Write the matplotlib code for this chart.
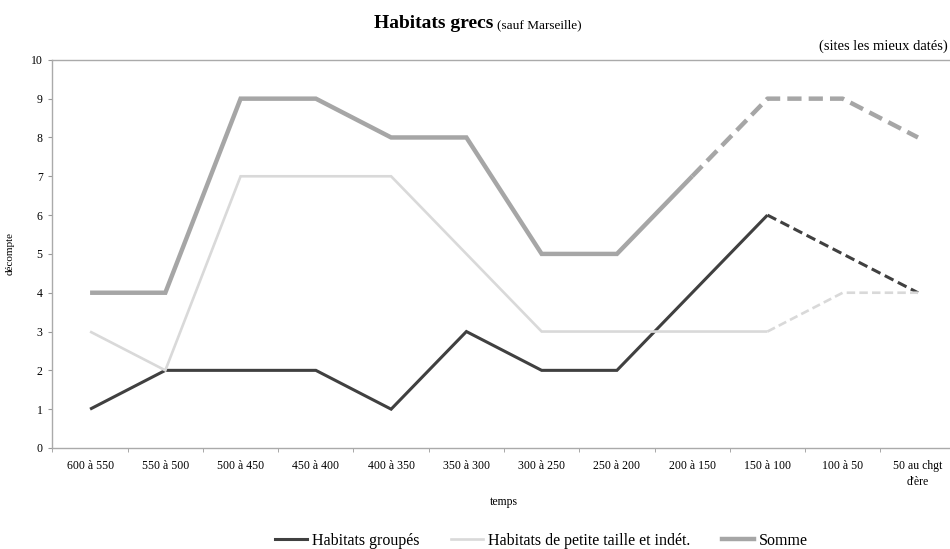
import matplotlib
matplotlib.use("Agg")
import matplotlib.pyplot as plt
from matplotlib.lines import Line2D

periodes = ["600 à 550", "550 à 500", "500 à 450", "450 à 400", "400 à 350",
            "350 à 300", "300 à 250", "250 à 200", "200 à 150", "150 à 100",
            "100 à 50", "50 au chgt\nd'ère"]
groupes = [1, 2, 2, 2, 1, 3, 2, 2, 4, 6, 5, 4]
petite_taille = [3, 2, 7, 7, 7, 5, 3, 3, 3, 3, 4, 4]
somme = [4, 4, 9, 9, 8, 8, 5, 5, 7, 9, 9, 8]

# index from which each series is drawn dashed (less certain dating)
series = [
    ("Habitats groupés", groupes, "#404040", 2.2, 9),
    ("Habitats de petite taille et indét.", petite_taille, "#d9d9d9", 1.9, 9),
    ("Somme", somme, "#a6a6a6", 3.2, 8),
]

plt.rcParams["font.family"] = "Liberation Serif"

fig = plt.figure(figsize=(9.5, 5.49), dpi=100)
ax = fig.add_axes([0.0552, 0.184, 0.9507, 0.707])

x = list(range(len(periodes)))
handles = []
for name, vals, color, lw, cut in series:
    ax.plot(x[:cut + 1], vals[:cut + 1], color=color, lw=lw,
            solid_capstyle="butt", solid_joinstyle="miter")
    ax.plot(x[cut:], vals[cut:], color=color, lw=lw,
            linestyle=(0, (3.2, 1.6)), dash_capstyle="butt")
    handles.append(Line2D([0], [0], color=color, lw=lw, label=name))

ax.set_xlim(-0.5, len(periodes) - 0.5)
ax.set_ylim(0, 10)
ax.set_yticks(range(11))
ax.set_xticks(x)
ax.set_xticklabels(periodes, fontsize=8.5, linespacing=1.4)
ax.set_xticks([i - 0.5 for i in range(len(periodes) + 1)], minor=True)
ax.tick_params(axis="x", which="major", length=0, pad=9)
ax.tick_params(axis="x", which="minor", length=3, color="#999999")
ax.tick_params(axis="y", length=3, color="#999999", labelsize=8.5, pad=4)

for s in ["left", "bottom", "top"]:
    ax.spines[s].set_color("#aaaaaa")
    ax.spines[s].set_linewidth(1.0)
ax.spines["right"].set_visible(False)

ax.set_ylabel("décompte", fontsize=8, labelpad=12)
ax.set_xlabel("temps", fontsize=8.5, labelpad=6)

fig.text(0.519, 0.949, "Habitats grecs", fontsize=14, fontweight="bold",
         ha="right", va="baseline")
fig.text(0.523, 0.949, "(sauf Marseille)", fontsize=9.5, ha="left",
         va="baseline")
fig.text(0.998, 0.909, "(sites les mieux datés)", fontsize=10.5, ha="right",
         va="baseline")

fig.legend(handles=handles, loc="center", bbox_to_anchor=(0.57, 0.015),
           ncol=3, frameon=False, fontsize=11.5, handlelength=2.0,
           columnspacing=2.0, handletextpad=0.3)

fig.savefig("out.png", dpi=100)
